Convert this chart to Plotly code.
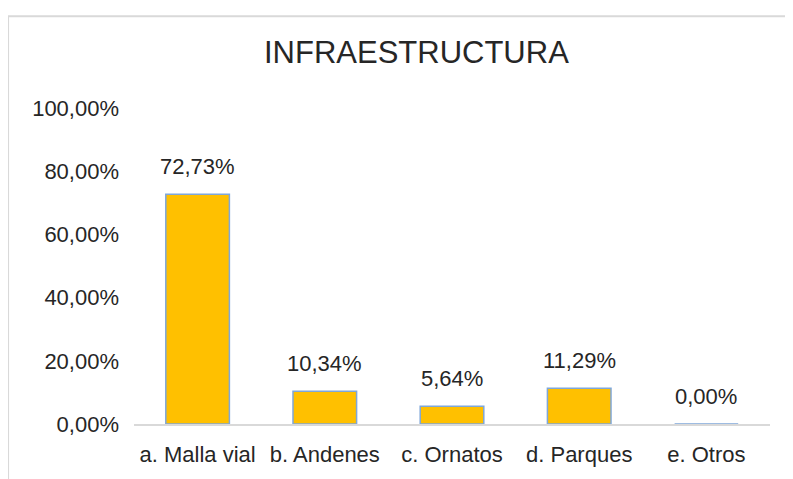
import plotly.graph_objects as go

categorias = ['a. Malla vial', 'b. Andenes', 'c. Ornatos', 'd. Parques', 'e. Otros']
porcentajes = [0.7273, 0.1034, 0.0564, 0.1129, 0.0]
ticks_y = [0, 0.2, 0.4, 0.6, 0.8, 1.0]

fig = go.Figure()
fig.add_trace(go.Bar(
    x=categorias, y=porcentajes,
    marker=dict(color='#FFC000', line=dict(color='#7FA7D9', width=1.5)),
    width=0.5,
))

# etiquetas de datos como en excel (coma decimal)
for cat, val in zip(categorias, porcentajes):
    fig.add_annotation(x=cat, y=val, text=f'{val*100:.2f}%'.replace('.', ','),
                       showarrow=False, yanchor='middle', yshift=28,
                       font=dict(size=22, color='#262626'))

# la pagina agrega 8px de margen, por eso los margenes van corridos
fig.update_layout(
    width=793, height=479,
    separators=',.',
    paper_bgcolor='white', plot_bgcolor='white',
    margin=dict(l=126, r=31, t=100, b=63),
    font=dict(family='Liberation Sans, Arial', color='#262626'),
    title=dict(text='INFRAESTRUCTURA', x=0.515, xanchor='center', y=0.908, yanchor='middle',
               font=dict(size=31, color='#262626')),
    showlegend=False,
    xaxis=dict(showline=True, linecolor='#d9d9d9', linewidth=1.5, ticks='',
               ticklabelstandoff=10, tickfont=dict(size=22, color='#262626')),
    yaxis=dict(range=[0, 1.0], tickvals=ticks_y, tickformat='.2%', showgrid=False,
               zeroline=False, ticks='', ticklen=0, ticklabelstandoff=14,
               tickfont=dict(size=22, color='#262626')),
    shapes=[dict(type='rect', xref='paper', yref='paper', x0=-0.198, x1=1.2, y0=-0.4, y1=1.29,
                 line=dict(color='#d9d9d9', width=2), layer='below')],
)

fig.write_html('out.html')
